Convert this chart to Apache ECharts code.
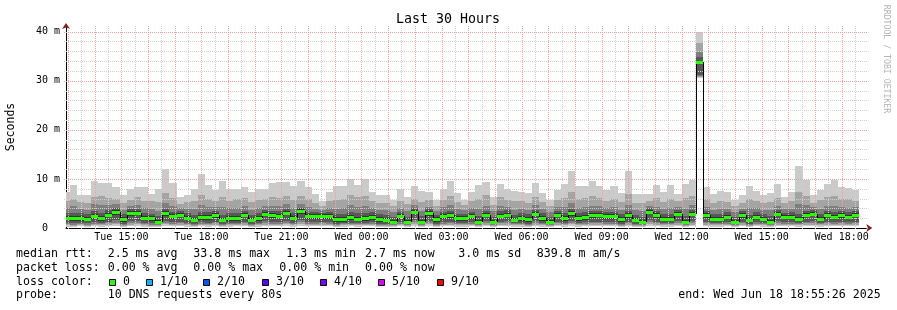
<!DOCTYPE html>
<html><head><meta charset="utf-8">
<script src="https://cdn.jsdelivr.net/npm/echarts@6/dist/echarts.min.js"></script>
<style>html,body{margin:0;padding:0;background:#fff}#c{width:897px;height:310px}</style>
</head><body><div id="c"></div>
<script>
// ---- time frame (minutes since Tue 00:00) ----
const xStart = 775.433;   // Tue 12:55:26
const xEnd = 2575.433;    // Wed 18:55:26
const firstBin = 768;     // first 16-minute bin start (Tue 12:48)
const binMinutes = 16;

const xLabelMinutes = [900,1080,1260,1440,1620,1800,1980,2160,2340,2520];
const xLabels = ['Tue 15:00','Tue 18:00','Tue 21:00','Wed 00:00','Wed 03:00','Wed 06:00','Wed 09:00','Wed 12:00','Wed 15:00','Wed 18:00'];
const yTickValues = [0,10,20,30,40];
const yTickLabels = ['0  ','10 m','20 m','30 m','40 m'];

// ---- per-bin RTT values (ms), 10 sorted pings p1..p10 and median ----
const median = [2.1,2.0,2.0,1.9,2.4,2.0,2.7,3.3,1.8,3.1,3.1,2.1,2.0,1.3,3.0,2.4,2.7,2.1,1.6,2.2,2.2,2.6,1.6,2.0,2.0,2.7,1.6,2.0,2.9,2.6,2.5,3.1,2.1,3.4,2.4,2.4,2.4,2.4,1.8,1.8,2.2,1.9,
2.0,2.2,1.8,1.6,1.3,2.4,1.3,3.3,1.3,3.0,1.8,2.4,2.6,2.0,2.0,2.4,1.3,2.7,1.3,2.5,2.7,1.7,2.0,1.8,2.9,2.0,1.3,2.7,2.0,3.0,2.0,2.2,2.6,2.7,2.4,2.4,1.8,2.6,1.6,1.3,3.3,2.6,
1.9,1.9,2.9,1.3,2.9,33.8,2.6,1.9,1.9,2.3,1.3,2.6,1.7,2.3,1.9,1.3,2.9,2.3,2.3,1.9,2.7,2.9,1.9,2.7,2.3,2.6,2.3,2.7];
const p10 = [7.4,8.8,6.7,6.7,9.6,9.1,9.1,8.4,6.7,7.9,8.4,8.4,6.9,7.9,12.1,9.2,6.4,6.7,7.9,10.9,8.8,7.7,9.6,7.9,7.9,8.4,7.4,7.9,7.9,9.1,9.4,9.4,8.6,9.6,8.4,6.9,5.6,7.4,8.6,8.6,9.9,8.8,
10.0,7.4,6.7,6.7,5.8,7.9,6.4,8.6,7.6,7.4,5.7,7.9,9.6,7.1,5.7,7.4,8.7,9.4,6.4,9.0,7.9,7.6,7.4,7.1,9.1,7.2,5.8,7.7,9.0,11.7,8.5,8.6,9.6,8.5,7.7,8.5,7.1,11.6,6.9,7.0,7.0,8.8,
7.3,8.7,7.0,9.0,9.8,40.0,8.3,7.0,7.6,7.3,5.7,6.7,8.5,7.6,6.7,7.2,8.9,6.4,7.3,12.6,9.8,6.7,7.7,9.0,9.8,8.3,8.2,7.8];
const p9 = [5.6,6.0,5.2,5.0,6.4,6.6,6.2,6.0,5.0,5.8,6.4,5.5,5.4,5.2,7.2,6.1,4.8,5.2,5.6,6.8,6.0,5.6,6.4,5.6,5.9,6.2,5.3,5.8,5.9,6.3,6.1,6.6,5.8,6.5,6.0,5.0,4.4,5.6,5.7,6.0,6.8,6.3,
6.5,5.6,5.0,5.0,4.5,5.6,4.8,6.0,5.2,5.7,4.4,5.8,6.6,5.2,4.6,5.4,5.9,6.7,4.7,6.4,5.7,5.4,5.5,5.1,6.3,5.3,4.5,5.8,6.2,7.4,6.0,6.2,6.6,6.1,5.6,5.9,5.2,7.0,5.0,5.1,5.6,6.2,
5.3,6.0,5.4,6.1,6.6,37.6,6.0,5.0,5.6,5.3,4.4,5.0,6.0,5.5,5.0,5.3,6.2,5.0,5.4,7.4,6.6,5.1,5.7,6.3,6.6,6.0,5.9,5.6];
const p8 = [4.0,4.4,3.8,3.6,4.8,4.6,4.6,4.8,3.7,4.4,4.7,4.0,3.8,3.5,5.0,4.4,4.0,3.8,3.8,4.6,4.3,4.2,4.2,4.0,4.1,4.5,3.7,4.0,4.4,4.5,4.4,4.8,4.1,4.9,4.3,3.9,3.6,4.0,3.9,4.1,4.6,4.3,
4.5,4.1,3.7,3.6,3.3,4.1,3.4,4.6,3.5,4.3,3.4,4.2,4.6,3.8,3.6,4.0,3.8,4.5,3.4,4.4,4.3,3.7,3.9,3.7,4.6,3.9,3.3,4.2,4.2,5.0,4.1,4.3,4.5,4.4,4.1,4.2,3.7,4.7,3.6,3.4,4.5,4.3,
3.8,4.1,4.3,3.9,4.6,35.9,4.3,3.7,3.8,3.9,3.3,3.9,4.0,4.0,3.7,3.6,4.5,3.8,3.9,4.8,4.6,4.2,3.9,4.4,4.5,4.3,4.1,4.2];
const p7 = [3.1,3.0,3.0,2.8,3.4,3.1,3.6,4.0,2.8,3.8,3.9,3.0,2.9,2.4,3.9,3.3,3.4,3.0,2.6,3.3,3.2,3.4,2.7,3.0,3.0,3.5,2.6,3.0,3.7,3.5,3.4,3.9,3.1,4.1,3.3,3.2,3.1,3.2,2.8,2.9,3.2,3.0,
3.1,3.2,2.8,2.6,2.3,3.3,2.3,4.0,2.4,3.8,2.7,3.3,3.5,2.9,2.8,3.3,2.4,3.5,2.3,3.4,3.6,2.7,3.0,2.8,3.7,3.0,2.3,3.5,3.0,3.9,3.0,3.2,3.5,3.5,3.3,3.3,2.8,3.5,2.6,2.3,4.0,3.5,
2.9,2.9,3.7,2.4,3.7,34.9,3.5,2.9,2.8,3.2,2.3,3.4,2.7,3.2,2.8,2.4,3.7,3.1,3.2,2.9,3.5,3.7,2.9,3.5,3.2,3.4,3.2,3.4];
const p6 = [2.5,2.4,2.4,2.3,2.8,2.4,3.1,3.7,2.2,3.5,3.5,2.5,2.4,1.7,3.4,2.8,3.1,2.5,2.0,2.6,2.6,3.0,2.0,2.4,2.4,3.1,2.0,2.4,3.3,3.0,2.9,3.5,2.5,3.8,2.8,2.8,2.8,2.8,2.2,2.2,2.6,2.3,
2.4,2.6,2.2,2.0,1.7,2.8,1.7,3.7,1.7,3.4,2.2,2.8,3.0,2.4,2.4,2.8,1.7,3.1,1.7,2.9,3.1,2.1,2.4,2.2,3.3,2.4,1.7,3.1,2.4,3.4,2.4,2.6,3.0,3.1,2.8,2.8,2.2,3.0,2.0,1.7,3.7,3.0,
2.3,2.3,3.3,1.7,3.3,33.9,3.0,2.3,2.3,2.7,1.7,3.0,2.1,2.7,2.3,1.7,3.3,2.7,2.7,2.3,3.1,3.3,2.3,3.1,2.7,3.0,2.7,3.1];
const p5 = [1.6,1.5,1.5,1.4,1.9,1.5,2.2,2.7,1.3,2.5,2.6,1.6,1.5,1.0,2.5,1.9,2.2,1.6,1.2,1.7,1.7,2.1,1.2,1.5,1.5,2.2,1.2,1.5,2.4,2.1,2.0,2.6,1.6,2.9,1.9,1.9,1.9,1.9,1.3,1.3,1.7,1.4,
1.5,1.7,1.3,1.2,1.0,1.9,1.0,2.8,1.0,2.5,1.3,1.9,2.1,1.5,1.5,1.9,1.0,2.2,1.0,2.0,2.2,1.3,1.5,1.3,2.4,1.5,1.0,2.2,1.5,2.5,1.5,1.7,2.1,2.2,1.9,1.9,1.3,2.1,1.2,1.0,2.8,2.1,
1.4,1.4,2.4,1.0,2.4,33.5,2.1,1.4,1.4,1.8,1.0,2.1,1.3,1.8,1.4,1.0,2.4,1.8,1.8,1.4,2.2,2.4,1.4,2.2,1.8,2.1,1.8,2.2];
const p4 = [1.1,1.0,1.1,1.0,1.2,1.1,1.3,1.6,0.9,1.4,1.5,1.1,1.0,0.8,1.5,1.2,1.3,1.1,0.9,1.2,1.1,1.3,0.9,1.0,1.1,1.3,0.9,1.0,1.4,1.3,1.2,1.5,1.1,1.6,1.2,1.2,1.3,1.2,0.9,1.0,1.1,1.0,
1.1,1.2,0.9,0.9,0.8,1.2,0.8,1.6,0.8,1.5,0.9,1.2,1.3,1.0,1.1,1.2,0.8,1.4,0.8,1.3,1.4,1.0,1.0,0.9,1.4,1.0,0.8,1.3,1.1,1.5,1.1,1.2,1.3,1.3,1.2,1.2,0.9,1.3,0.9,0.8,1.6,1.3,
1.0,1.0,1.4,0.8,1.4,31.2,1.3,1.0,1.0,1.2,0.8,1.3,0.9,1.2,1.0,0.8,1.4,1.2,1.2,1.0,1.3,1.4,1.0,1.3,1.2,1.3,1.2,1.3];
const p3 = [0.8,0.7,0.8,0.7,0.9,0.8,1.0,1.1,0.7,1.0,1.1,0.8,0.7,0.6,1.1,0.9,1.0,0.8,0.7,0.9,0.8,1.0,0.7,0.8,0.8,1.0,0.7,0.8,1.0,0.9,0.9,1.1,0.8,1.2,0.9,0.9,1.0,0.9,0.7,0.8,0.8,0.8,
0.8,0.9,0.7,0.7,0.6,0.9,0.6,1.2,0.6,1.1,0.7,0.9,1.0,0.8,0.8,0.9,0.6,1.0,0.6,1.0,1.0,0.8,0.8,0.7,1.0,0.8,0.6,1.0,0.8,1.1,0.8,0.9,1.0,1.0,0.9,0.9,0.7,1.0,0.7,0.6,1.2,1.0,
0.8,0.8,1.0,0.6,1.0,31.0,1.0,0.8,0.8,0.9,0.6,1.0,0.7,0.9,0.8,0.6,1.0,0.9,0.9,0.8,1.0,1.0,0.8,1.0,0.9,1.0,0.9,1.0];
const p2 = [0.6,0.5,0.6,0.5,0.7,0.6,0.7,0.8,0.5,0.7,0.8,0.6,0.5,0.4,0.8,0.6,0.7,0.6,0.5,0.6,0.6,0.7,0.5,0.6,0.6,0.7,0.5,0.6,0.7,0.7,0.6,0.8,0.6,0.8,0.7,0.7,0.7,0.6,0.5,0.6,0.6,0.6,
0.6,0.6,0.5,0.5,0.4,0.7,0.4,0.8,0.4,0.8,0.5,0.6,0.7,0.6,0.6,0.7,0.4,0.7,0.4,0.7,0.7,0.6,0.6,0.5,0.7,0.6,0.4,0.7,0.6,0.8,0.6,0.6,0.7,0.7,0.6,0.7,0.5,0.7,0.5,0.4,0.8,0.7,
0.6,0.6,0.7,0.4,0.7,30.8,0.7,0.6,0.6,0.6,0.4,0.7,0.5,0.6,0.6,0.4,0.7,0.6,0.6,0.6,0.7,0.7,0.6,0.7,0.6,0.7,0.6,0.7];
const p1 = [0.3,0.3,0.4,0.3,0.4,0.3,0.4,0.5,0.3,0.4,0.5,0.3,0.3,0.2,0.5,0.4,0.4,0.3,0.3,0.4,0.3,0.4,0.3,0.3,0.4,0.4,0.3,0.3,0.4,0.4,0.4,0.5,0.3,0.5,0.4,0.4,0.4,0.4,0.3,0.3,0.4,0.3,
0.4,0.4,0.3,0.3,0.2,0.4,0.2,0.5,0.2,0.5,0.3,0.4,0.4,0.3,0.3,0.4,0.2,0.4,0.2,0.4,0.4,0.3,0.3,0.3,0.4,0.3,0.2,0.4,0.3,0.5,0.3,0.4,0.4,0.4,0.4,0.4,0.3,0.4,0.3,0.2,0.5,0.4,
0.3,0.3,0.4,0.2,0.4,30.6,0.4,0.3,0.3,0.4,0.2,0.4,0.3,0.4,0.3,0.2,0.4,0.4,0.4,0.3,0.4,0.4,0.3,0.4,0.4,0.4,0.4,0.4];

// ---- styles ----
const smokeColors = ['#cacaca','#a4a4a4','#7e7e7e','#585858','#323232'];
const lossColors = ['#26ff00','#00b8ff','#0059ff','#5e00ff','#7e00ff','#dd00ff','#ff0000'];
const lossLabels = ['0','1/10','2/10','3/10','4/10','5/10','9/10'];
const FONT = '"DejaVu Sans Mono", monospace';
const yTop = 41.15;

// ---- build rows ----
const binStart = median.map((_, k) => firstBin + k * binMinutes);
const smokeRows = binStart.map((t, k) => [t, t + binMinutes, p1[k], p2[k], p3[k], p4[k], p5[k], p6[k], p7[k], p8[k], p9[k], p10[k]]);
const medianRows = binStart.map((t, k) => [t, t + binMinutes, median[k], k > 0 ? median[k - 1] : median[k]]);
const gridXRows = [];
for (let m = 780; m <= xEnd; m += 30) gridXRows.push([m, m % 60 === 0 ? 1 : 0]);
const gridYRows = [];
for (let v = 2; v <= 40; v += 2) gridYRows.push([v, v % 10 === 0 ? 1 : 0]);

function clampX(params, api, s, e) {
  const cs = params.coordSys;
  let xa = Math.round(api.coord([s, 0])[0]);
  let xb = Math.round(api.coord([e, 0])[0]);
  xa = Math.max(xa, Math.round(cs.x));
  xb = Math.min(xb, Math.round(cs.x + cs.width));
  return [xa, xb];
}

function renderSmoke(params, api) {
  const s = api.value(0), e = api.value(1);
  const [xa, xb] = clampX(params, api, s, e);
  if (xb <= xa) return null;
  const children = [];
  for (let i = 0; i < 5; i++) {
    const lo = api.value(2 + i), hi = api.value(11 - i);
    const yt = Math.round(api.coord([s, hi])[1]);
    const yb = Math.round(api.coord([s, lo])[1]);
    children.push({type: 'rect', shape: {x: xa, y: yt, width: xb - xa, height: Math.max(1, yb - yt)}, style: {fill: smokeColors[i]}});
  }
  return {type: 'group', children};
}

function renderMedian(params, api) {
  const s = api.value(0), e = api.value(1);
  const [xa, xb] = clampX(params, api, s, e);
  if (xb <= xa) return null;
  const y = Math.round(api.coord([s, api.value(2)])[1]);
  const yp = Math.round(api.coord([s, api.value(3)])[1]);
  const children = [];
  if (y !== yp && params.dataIndex > 0) {
    children.push({type: 'line', shape: {x1: xa + 0.5, y1: yp, x2: xa + 0.5, y2: y}, style: {stroke: '#000', lineWidth: 1}});
  }
  children.push({type: 'rect', shape: {x: xa, y: y - 1, width: xb - xa, height: 3}, style: {fill: lossColors[0]}});
  return {type: 'group', children};
}

function renderGridX(params, api) {
  const x = Math.round(api.coord([api.value(0), 0])[0]) + 0.5;
  const y0 = api.coord([api.value(0), 0])[1] + 2;
  const y1 = api.coord([api.value(0), yTop])[1];
  return {type: 'line', shape: {x1: x, y1: y1, x2: x, y2: y0}, style: {stroke: api.value(1) ? '#f2a0a0' : '#cfcfcf', lineWidth: 1, lineDash: [1, 1]}};
}
function renderGridY(params, api) {
  const y = Math.round(api.coord([xStart, api.value(0)])[1]) + 0.5;
  const xa = api.coord([xStart, 0])[0] - 2;
  const xb = api.coord([xEnd, 0])[0] + 2;
  return {type: 'line', shape: {x1: xa, y1: y, x2: xb, y2: y}, style: {stroke: api.value(1) ? '#f2a0a0' : '#cfcfcf', lineWidth: 1, lineDash: [1, 1]}};
}

// ---- legend graphics ----
const textStyle = (t, x, y, extra) => Object.assign({type: 'text', x, y, style: {text: t, fill: '#000', font: '11.6px ' + FONT, align: 'left', verticalAlign: 'middle'}}, extra || {});
const graphics = [
  {type: 'text', x: 448, y: 19.5, style: {text: 'Last 30 Hours', fill: '#000', font: '13.3px ' + FONT, align: 'center', verticalAlign: 'middle'}},
  {type: 'text', x: 11, y: 127, rotation: Math.PI / 2, style: {text: 'Seconds', fill: '#000', font: '11.5px ' + FONT, align: 'center', verticalAlign: 'middle'}},
  {type: 'text', x: 886.5, y: 59, rotation: -Math.PI / 2, style: {text: 'RRDTOOL / TOBI OETIKER', fill: '#b4b4b4', font: '8.2px ' + FONT, align: 'center', verticalAlign: 'middle'}},
  textStyle('median rtt:', 16, 254),
  textStyle('2.5 ms avg', 107.7, 254),
  textStyle('33.8 ms max', 193.3, 254),
  textStyle('1.3 ms min', 286.2, 254),
  textStyle('2.7 ms now', 365, 254),
  textStyle('3.0 ms sd', 458.3, 254),
  textStyle('839.8 m am/s', 536.7, 254),
  textStyle('packet loss:', 16, 267.5),
  textStyle('0.00 % avg', 107.7, 267.5),
  textStyle('0.00 % max', 193.3, 267.5),
  textStyle('0.00 % min', 279.3, 267.5),
  textStyle('0.00 % now', 365, 267.5),
  textStyle('loss color:', 16, 281.5),
  textStyle('probe:', 16, 295),
  textStyle('10 DNS requests every 80s', 107.7, 295),
  textStyle('end: Wed Jun 18 18:55:26 2025', 678.3, 295)
];
const boxX = [109, 146, 203, 262, 320, 378, 437];
lossColors.forEach((c, i) => {
  graphics.push({type: 'rect', shape: {x: boxX[i] + 0.5, y: 279.5, width: 6, height: 6}, style: {fill: c, stroke: '#000', lineWidth: 1}});
  graphics.push(textStyle(lossLabels[i], boxX[i] + 14, 281.5));
});

const chart = echarts.init(document.getElementById('c'), null, {renderer: 'canvas'});
chart.setOption({
  animation: false,
  backgroundColor: '#fff',
  grid: {left: 66, right: 30.7, top: 26, bottom: 82},
  xAxis: [{
    type: 'value', min: xStart, max: xEnd, position: 'bottom',
    axisLine: {show: true, lineStyle: {color: '#000', width: 1}},
    axisTick: {show: false},
    splitLine: {show: false},
    axisLabel: {customValues: xLabelMinutes, margin: 4, color: '#000', fontFamily: FONT, fontSize: 10,
      formatter: v => { const i = xLabelMinutes.indexOf(Math.round(v)); return i >= 0 ? xLabels[i] : ''; }}
  }, {
    type: 'value', min: xStart, max: xEnd, position: 'bottom',
    axisLine: {show: true, symbol: ['none', 'arrow'], symbolSize: [6, 6], symbolOffset: [0, 6], lineStyle: {color: '#8b1a1a', width: 0}},
    axisTick: {show: false}, axisLabel: {show: false}, splitLine: {show: false}
  }],
  yAxis: [{
    type: 'value', min: 0, max: yTop, position: 'left',
    axisLine: {show: true, lineStyle: {color: '#000', width: 1}},
    axisTick: {show: false},
    splitLine: {show: false},
    axisLabel: {customValues: yTickValues, margin: 6, color: '#000', fontFamily: FONT, fontSize: 10,
      formatter: v => { const i = yTickValues.indexOf(Math.round(v)); return i >= 0 ? yTickLabels[i] : ''; }}
  }, {
    type: 'value', min: 0, max: yTop, position: 'left',
    axisLine: {show: true, symbol: ['none', 'arrow'], symbolSize: [6, 6], symbolOffset: [0, 3], lineStyle: {color: '#8b1a1a', width: 0}},
    axisTick: {show: false}, axisLabel: {show: false}, splitLine: {show: false}
  }],
  series: [
    {type: 'custom', name: 'smoke', renderItem: renderSmoke, data: smokeRows, encode: {x: [0, 1], y: [2, 11]}, clip: true, z: 1, silent: true},
    {type: 'custom', name: 'gridX', renderItem: renderGridX, data: gridXRows, encode: {x: 0}, z: 2, silent: true},
    {type: 'custom', name: 'gridY', renderItem: renderGridY, data: gridYRows, encode: {y: 0}, z: 2, silent: true},
    {type: 'custom', name: 'median', renderItem: renderMedian, data: medianRows, encode: {x: [0, 1], y: 2}, clip: true, z: 3, silent: true}
  ],
  graphic: graphics
});
</script>
</body></html>
